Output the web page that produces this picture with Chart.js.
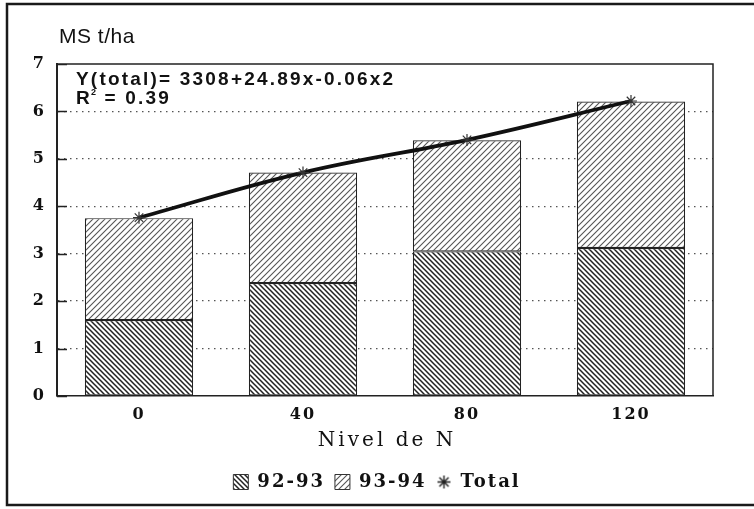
<!DOCTYPE html>
<html>
<head>
<meta charset="utf-8">
<script src="https://cdn.jsdelivr.net/npm/chart.js@4"></script>
<style>
  html, body { margin: 0; padding: 0; background: #fff; }
  #wrap { width: 754px; height: 509px; position: relative; }
</style>
</head>
<body>
<div id="wrap"><canvas id="chart-bars" width="754" height="509"></canvas></div>
<script>
const labels = ['0', '40', '80', '120'];
const season9293 = [1.6, 2.38, 3.05, 3.12];
const season9394 = [2.15, 2.33, 2.34, 3.09];
const totals = [3.76, 4.71, 5.40, 6.22];
const yTicks = [0, 1, 2, 3, 4, 5, 6, 7];
const equation = 'Y(total)= 3308+24.89x-0.06x2';
const rSquared = '0.39';

// hatch fill for the bars
function hatch(step, width, color, back) {
  const c = document.createElement('canvas');
  c.width = step; c.height = step;
  const g = c.getContext('2d');
  g.fillStyle = '#fff';
  g.fillRect(0, 0, step, step);
  g.strokeStyle = color;
  g.lineWidth = width;
  g.beginPath();
  if (back) {
    g.moveTo(-1, -1); g.lineTo(step + 1, step + 1);
    g.moveTo(-1, step - 1); g.lineTo(1, step + 1);
    g.moveTo(step - 1, -1); g.lineTo(step + 1, 1);
  } else {
    g.moveTo(-1, step + 1); g.lineTo(step + 1, -1);
    g.moveTo(-1, 1); g.lineTo(1, -1);
    g.moveTo(step - 1, step + 1); g.lineTo(step + 1, step - 1);
  }
  g.stroke();
  return g.createPattern(c, 'repeat');
}

// small asterisk for the legend
function asterisk(size) {
  const c = document.createElement('canvas');
  c.width = size; c.height = size;
  const g = c.getContext('2d');
  const m = size / 2, r = size / 2 - 1;
  g.strokeStyle = '#222';
  g.lineWidth = 1.4;
  g.beginPath();
  for (let k = 0; k < 4; k++) {
    const t = k * Math.PI / 4;
    g.moveTo(m - r * Math.cos(t), m - r * Math.sin(t));
    g.lineTo(m + r * Math.cos(t), m + r * Math.sin(t));
  }
  g.stroke();
  return c;
}

const fill9293 = hatch(5, 1.5, '#222', true);
const fill9394 = hatch(6, 1.1, '#555', false);
const starIcon = asterisk(15);

const serif = '"DejaVu Serif", serif';
const sans = '"Liberation Sans", Arial, sans-serif';

const extras = {
  id: 'extras',
  beforeLayout(chart) { chart.ctx.letterSpacing = '2px'; },
  beforeDraw(chart) { chart.ctx.letterSpacing = '2px'; },
  afterDatasetsDraw(chart) {
    const ctx = chart.ctx;
    const a = chart.chartArea;
    const y = chart.scales.y;
    ctx.save();
    ctx.strokeStyle = '#222';
    ctx.lineWidth = 1.5;
    ctx.beginPath();
    ctx.moveTo(a.left, a.top); ctx.lineTo(a.right, a.top); ctx.lineTo(a.right, a.bottom);
    yTicks.forEach(v => {
      const py = Math.round(y.getPixelForValue(v)) + 0.5;
      ctx.moveTo(a.left, py); ctx.lineTo(a.left + 10, py);
    });
    ctx.stroke();
    ctx.restore();
  },
  afterDraw(chart) {
    const ctx = chart.ctx;
    const a = chart.chartArea;
    ctx.save();
    // frame
    ctx.strokeStyle = '#1a1a1a';
    ctx.lineWidth = 2.5;
    ctx.beginPath();
    ctx.moveTo(760, 4); ctx.lineTo(7, 4); ctx.lineTo(7, 505); ctx.lineTo(760, 505);
    ctx.stroke();
    ctx.fillStyle = '#111';
    ctx.textBaseline = 'middle';
    ctx.letterSpacing = '0.5px';
    ctx.font = '21px ' + sans;
    ctx.fillText('MS t/ha', 59, 37);
    ctx.letterSpacing = '2.2px';
    ctx.font = 'bold 19px ' + sans;
    const x0 = a.left + 19;
    ctx.fillText(equation, x0, 80);
    ctx.fillText('R', x0, 99);
    const rw = ctx.measureText('R').width;
    ctx.font = 'bold 9px ' + sans;
    ctx.fillText('2', x0 + rw - 1, 93);
    ctx.font = 'bold 19px ' + sans;
    ctx.fillText(' = ' + rSquared, x0 + rw + 5, 99);
    // x title
    ctx.letterSpacing = '3px';
    ctx.font = '20px ' + serif;
    ctx.textAlign = 'center';
    ctx.fillText('Nivel de N', (a.left + a.right) / 2 + 2, 441);
    ctx.restore();
  }
};

const data = {
  labels: labels,
  datasets: [
    {
      type: 'line',
      label: 'Total',
      data: totals,
      stack: 'total',
      borderColor: '#111',
      borderWidth: 3.8,
      tension: 0.4,
      pointStyle: 'star',
      pointRadius: 6,
      pointBorderColor: '#333',
      pointBorderWidth: 1.2,
      fill: false,
      order: 0
    },
    {
      type: 'bar',
      label: '92-93',
      data: season9293,
      stack: 'bars',
      backgroundColor: fill9293,
      borderColor: '#222',
      borderWidth: 1.2,
      borderSkipped: false,
      order: 1
    },
    {
      type: 'bar',
      label: '93-94',
      data: season9394,
      stack: 'bars',
      backgroundColor: fill9394,
      borderColor: '#222',
      borderWidth: 1.2,
      borderSkipped: false,
      order: 1
    }
  ]
};

const config = {
  type: 'bar',
  data: data,
  options: {
    responsive: false,
    animation: false,
    layout: { padding: { top: 64, bottom: 8, left: 0, right: 0 } },
    datasets: { bar: { barPercentage: 0.66, categoryPercentage: 1 } },
    scales: {
      x: {
        stacked: true,
        grid: { display: false, drawTicks: false },
        border: { display: true, color: '#222', width: 1.5 },
        ticks: { color: '#111', font: { family: serif, size: 16, weight: 'bold' }, padding: 9 },
        afterFit: s => { s.height = 67; }
      },
      y: {
        stacked: true,
        min: 0,
        max: 7,
        grid: {
          drawTicks: false,
          color: ctx => (ctx.tick.value === 0 || ctx.tick.value === 7) ? 'rgba(0,0,0,0)' : '#555',
          lineWidth: 1.3
        },
        border: { display: true, color: '#222', width: 2, dash: [1.5, 4.5] },
        ticks: { stepSize: 1, color: '#111', padding: 11, font: { family: serif, size: 16, weight: 'bold' } },
        afterFit: s => { s.width = 57; }
      },
      y2: {
        position: 'right',
        display: true,
        grid: { display: false },
        border: { display: false },
        ticks: { display: false },
        afterFit: s => { s.width = 41; }
      }
    },
    plugins: {
      tooltip: { enabled: false },
      legend: {
        position: 'bottom',
        labels: {
          usePointStyle: true,
          boxWidth: 15,
          boxHeight: 15,
          color: '#111',
          padding: 10,
          font: { family: serif, size: 18, weight: 'bold' },
          generateLabels: chart => [1, 2, 0].map(i => {
            const ds = chart.data.datasets[i];
            const isLine = ds.type === 'line';
            return {
              text: ds.label,
              fillStyle: isLine ? '#fff' : ds.backgroundColor,
              strokeStyle: '#333',
              lineWidth: 1,
              pointStyle: isLine ? starIcon : 'rect',
              fontColor: '#111',
              datasetIndex: i
            };
          })
        }
      }
    }
  },
  plugins: [extras]
};

const chartBars = new Chart(document.getElementById('chart-bars'), config);
</script>
</body>
</html>
